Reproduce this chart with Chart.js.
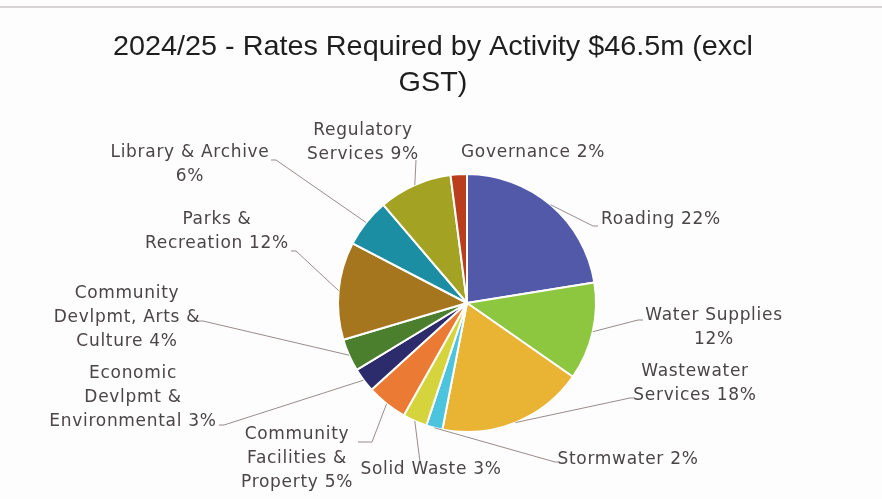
<!DOCTYPE html>
<html>
<head>
<meta charset="utf-8">
<script src="https://cdn.jsdelivr.net/npm/chart.js@4.4.0/dist/chart.umd.min.js"></script>
<style>
  html, body { margin: 0; padding: 0; background: #fdfdfd; }
  #wrap { position: relative; width: 882px; height: 499px; }
  canvas { display: block; }
</style>
</head>
<body>
<div id="wrap"><canvas id="ratesChart" width="882" height="499"></canvas></div>
<script>
// Rates required by activity, share of total (%)
const activities = ['Roading', 'Water Supplies', 'Wastewater Services', 'Stormwater', 'Solid Waste',
    'Community Facilities & Property', 'Economic Devlpmt & Environmental',
    'Community Devlpmt, Arts & Culture', 'Parks & Recreation', 'Library & Archive',
    'Regulatory Services', 'Governance'];
const shares = [22, 12, 18, 2, 3, 5, 3, 4, 12, 6, 9, 2];
const sliceColours = ['#5259a9', '#8dc63f', '#e9b334', '#4cc4de', '#d5d43c', '#eb7b34',
    '#2c2b6b', '#4b7e2d', '#a6761f', '#1c8ea4', '#a4a222', '#b93e1d'];

// how each label wraps; the share is appended to the last line
const labelWraps = [['Roading'], ['Water Supplies', ''], ['Wastewater', 'Services'], ['Stormwater'],
    ['Solid Waste'], ['Community', 'Facilities &', 'Property'], ['Economic', 'Devlpmt &', 'Environmental'],
    ['Community', 'Devlpmt, Arts &', 'Culture'], ['Parks &', 'Recreation'], ['Library & Archive', ''],
    ['Regulatory', 'Services'], ['Governance']];

// label placement: text centre x, first line y, leader bend points
const labelSpots = [
    { x: 661, y: 220, path: [[593, 226], [598, 226]] },
    { x: 714, y: 316, path: [[638, 320], [643, 320]] },
    { x: 695, y: 372, path: [[630, 398], [635, 398]] },
    { x: 628, y: 460, path: [[555, 462], [560, 462]] },
    { x: 431, y: 470, path: [[420, 462]] },
    { x: 297, y: 435, path: [[372, 442], [358, 442]] },
    { x: 133, y: 374, path: [[224, 425], [219, 425]] },
    { x: 127, y: 294, path: [[203, 321], [198, 321]] },
    { x: 217, y: 220, path: [[296, 251], [291, 251]] },
    { x: 190, y: 153, path: [[276, 160], [271, 160]] },
    { x: 363, y: 131, path: [[416, 160]] },
    { x: 533, y: 153, path: null }
];

const labelFont = '17px "DejaVu Sans"';
const lineGap = 24;
const titleLines = ['2024/25 - Rates Required by Activity $46.5m (excl', 'GST)'];

const outsideLabels = {
    id: 'outsideLabels',
    afterDatasetsDraw(chart) {
        const ctx = chart.ctx;
        const arcs = chart.getDatasetMeta(0).data;
        ctx.save();
        // leader lines from slice edge to label
        ctx.strokeStyle = '#978d8b';
        ctx.lineWidth = 1;
        arcs.forEach((arc, i) => {
            const spot = labelSpots[i];
            if (!spot.path) return;
            const mid = (arc.startAngle + arc.endAngle) / 2;
            ctx.beginPath();
            ctx.moveTo(arc.x + Math.cos(mid) * arc.outerRadius, arc.y + Math.sin(mid) * arc.outerRadius);
            spot.path.forEach(p => ctx.lineTo(p[0], p[1]));
            ctx.stroke();
        });
        // label text
        ctx.font = labelFont;
        ctx.letterSpacing = '0.7px';
        ctx.fillStyle = '#4a4546';
        ctx.textAlign = 'center';
        ctx.textBaseline = 'middle';
        labelWraps.forEach((lines, i) => {
            const spot = labelSpots[i];
            lines.forEach((line, j) => {
                let text = line;
                if (j === lines.length - 1) text = (line ? line + ' ' : '') + shares[i] + '%';
                ctx.fillText(text, spot.x, spot.y + j * lineGap);
            });
        });
        // title, squeezed to a narrow face
        ctx.letterSpacing = '0px';
        ctx.font = '28px "Liberation Sans"';
        ctx.fillStyle = '#1e1e1e';
        const squeeze = 640 / ctx.measureText(titleLines[0]).width;
        ctx.translate(433, 0);
        ctx.scale(squeeze, 1);
        ctx.fillText(titleLines[0], 0, 47);
        ctx.fillText(titleLines[1], 0, 83);
        ctx.restore();
    }
};

const ctx = document.getElementById('ratesChart').getContext('2d');
new Chart(ctx, {
    type: 'pie',
    data: {
        labels: activities,
        datasets: [{
            data: shares,
            backgroundColor: sliceColours,
            borderColor: '#ffffff',
            borderWidth: 2
        }]
    },
    options: {
        responsive: false,
        animation: false,
        layout: { padding: { left: 337, right: 285, top: 173, bottom: 66 } },
        plugins: {
            legend: { display: false },
            tooltip: { enabled: false },
            title: { display: false }
        }
    },
    plugins: [outsideLabels]
});

// faint frame line along the top edge
document.body.style.backgroundImage = 'linear-gradient(#d9d4d4, #d9d4d4)';
document.body.style.backgroundSize = '882px 2px';
document.body.style.backgroundPosition = '0 6px';
document.body.style.backgroundRepeat = 'no-repeat';
</script>
</body>
</html>
